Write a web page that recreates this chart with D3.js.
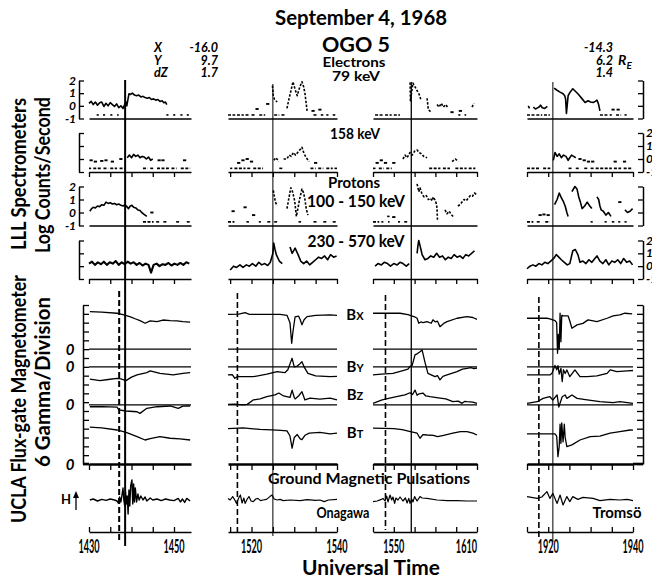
<!DOCTYPE html>
<html><head><meta charset="utf-8">
<script src="https://cdn.jsdelivr.net/npm/d3@7"></script>
<style>body{margin:0;background:#fff}svg{display:block}</style>
</head><body><svg id="c" width="652" height="584"></svg>
<script>
// ================= DATA =================
// time values are minutes past the column's hour
const colHours = [14, 15, 15, 19];
const colDomains = [[30,54],[14.5,40],[45,70],[15,40]];
const colTicks = [[30,35,40,45,50],[15,20,25,30,35,40],[45,50,55,60,65,70],[15,20,25,30,35,40]];
const tickLabels = [[1430,1450],[1520,1540],[1550,1610],[1920,1940]];
const dashedTimes = [37.1, 16.7, 48, 17.8];
const solidTimes = [38.5, 25, 54.2, 21.1];
const logTicks = [2, 1, 0, -1];
const floorLevel = -0.72;

// Electrons 79 keV (log counts/s)
const e79 = [
 [[30,0.2],[30.5,0.35],[31,0.1],[31.5,0.3],[32,0.05],[32.5,0.25],[33,0.3],[33.5,-0.05],[34,0.2],[34.5,0.0],[35,0.25],[35.5,0.1],[36,-0.05],[36.5,0.15],[37,-0.15],[37.5,0.0],[38,-0.2],[38.4,0.1],[38.7,0.3],[38.9,0.0],[39.1,0.4],[39.4,0.95],[39.8,0.9],[40.2,1.0],[40.7,0.85],[41.2,0.8],[41.7,0.85],[42.2,0.7],[42.7,0.75],[43.2,0.65],[43.7,0.6],[44.2,0.65],[44.7,0.5],[45.2,0.55],[45.7,0.45],[46.2,0.5],[46.7,0.35],[47.2,0.4],[47.6,0.25],[48,0.3],[48.3,0.1]],
 [[21.3,-0.25],[23.8,0.15],[24.9,1.6],[25,1.2],[25.1,0.8],[25.4,0.5],[26,0.3],[28.3,-0.2],[28.8,0.6],[29.3,1.3],[29.7,1.9],[30.2,1.3],[30.7,0.8],[31.2,1.4],[31.8,1.9],[32.2,1.5],[32.5,1.0],[33,-0.4],[34.4,-0.4],[36,-0.3]],
 [[53.9,1.85],[53.95,1.1],[54,0.4],[54.6,1.8],[55.1,1.5],[55.6,1.2],[56.1,0.9],[56.5,0.5],[58,0.6],[58.3,-0.3],[59,-0.5],[60.4,0.1],[60.9,-0.1],[61.4,0.2],[61.9,-0.1],[62.5,0.1],[62.9,-0.1],[64,-0.5],[66,-0.4],[68.8,-0.1],[69.3,0.2]],
 [[15.3,0.0],[15.6,-0.2],[16.5,-0.1],[17,-0.25],[17.8,-0.1],[18.2,0.05],[18.6,-0.15],[19.2,-0.2],[19.8,-0.05],[21.4,1.4],[22,1.25],[22.7,1.1],[23.5,0.95],[23.9,0.8],[24.1,0.55],[24.2,0.0],[24.3,-0.6],[24.7,0.8],[25.2,1.1],[25.8,1.35],[26.4,1.15],[27,0.95],[27.5,0.75],[28,0.55],[28.7,0.26],[29.4,0.4],[30,0.3],[30.6,0.26],[31.1,0.35],[31.5,0.45],[31.9,0.1],[32.2,-0.4],[35.3,-0.3],[36.5,-0.3]]
];
const e79Floor = [
 [[31.8,32.3],[33.3,33.8],[35,35.5],[36.6,37],[48.2,48.7],[49.8,50.3],[51.5,52],[53,53.5]],
 [[14.5,16.2],[16.6,18.2],[18.6,19.6],[20,21],[21.8,23.2],[25.3,26.5],[27,27.8],[34.5,35.2],[36.2,36.8],[37.5,38],[39,39.6]],
 [[45.5,47.5],[47.9,49.5],[50,51.5],[65.5,66],[67,67.4]],
 [[15,16.8],[17.2,18.6],[19,20.4],[32.2,34],[34.5,35],[36,37.2],[38,38.5]]
];
// Electrons 158 keV
const e158 = [
 [[30.5,-0.1],[31.5,-0.2],[33,-0.15],[34,-0.1],[35.5,-0.2],[37.5,0.0],[39,0.1],[39.5,0.3],[40,0.1],[40.5,0.35],[41,0.2],[41.5,0.3],[42,0.1],[42.5,0.2],[43,0.15],[43.5,0.0],[44,0.15],[44.5,-0.1],[45,0.0],[46.5,-0.1],[47.4,-0.1],[52.5,-0.1]],
 [[17,-0.3],[18,-0.1],[19,0.0],[20,-0.2],[25.2,-0.1],[25.7,0.1],[26.4,-0.2],[27.5,0.0],[28.3,0.0],[28.8,0.3],[29.3,0.2],[29.8,0.5],[30.3,0.3],[30.8,0.5],[31.3,0.7],[31.8,0.9],[32.3,0.4],[32.8,0.1],[33.5,-0.2],[35,-0.3]],
 [[46,-0.3],[47,-0.1],[48,-0.3],[50,-0.3],[52.2,0.0],[52.7,0.3],[53.2,0.1],[53.9,0.5],[54.4,0.3],[55,0.6],[55.6,0.7],[56.1,0.5],[56.6,0.4],[57.2,0.2],[58,0.1],[64,-0.2],[64.8,0.0],[65.5,-0.2]],
 [[21.2,-0.1],[21.6,0.5],[22.1,0.2],[22.6,0.4],[23.1,0.1],[23.6,0.3],[24.2,0.2],[24.7,-0.1],[25.5,0.3],[26,0.2],[26.5,0.1],[27.5,0.0],[28.5,-0.1],[29.5,-0.2],[30.5,-0.2],[35.8,-0.2],[38,-0.2]]
];
const e158Floor = [
 [[30,30.5],[31,32.8],[33.4,34.5],[35,36.6],[37.2,38.5],[42.7,43.8],[44.4,45.2],[46,48.8],[49.4,50.6],[51.6,53.8]],
 [[15,15.5],[16,18.6],[19,19.8],[20.4,22.7],[26.5,27.5],[33.8,35],[35.6,36.8],[37.5,39],[39.4,40]],
 [[45,45.6],[46.4,47.6],[48.2,49.5],[58.5,61.2],[61.8,63.5],[64.8,67.5],[68,69.6]],
 [[15,18.2],[18.8,20.5],[24.8,25.6],[26.5,27.5],[28.5,29.5],[30,30.8],[31.2,35],[35.5,37.2],[37.8,39.6]]
];
// Protons 100 - 150 keV
const p100 = [
 [[30.2,0.1],[30.6,0.3],[31,0.4],[31.5,0.35],[32,0.5],[32.5,0.45],[33,0.6],[33.5,0.55],[34,0.8],[34.5,0.7],[35,0.75],[35.5,0.65],[36,0.7],[36.5,0.6],[37,0.65],[37.5,0.55],[38,0.5],[38.5,0.6],[38.9,0.45],[39.3,0.3],[39.7,0.5],[40.1,0.55],[40.5,0.4],[41,0.35],[41.5,0.2],[42,0.15],[42.4,0.0],[42.8,-0.1],[43.2,-0.2],[43.6,-0.3],[44.8,0.0]],
 [[15.7,0.1],[18.5,0.4],[20.5,-0.2],[25.1,1.7],[25.3,1.3],[25.6,0.8],[26,0.5],[28.3,0.3],[28.8,1.2],[29.2,1.9],[29.6,1.6],[30.1,0.9],[30.5,-0.3],[30.9,0.4],[31.3,1.1],[31.8,1.8],[32.2,1.5],[32.5,1.0],[32.8,0.3],[33.2,-0.2]],
 [[48.4,-0.3],[49,-0.3],[50,-0.35],[55.6,2.2],[56,1.6],[56.3,1.9],[56.8,1.4],[57.3,1.2],[57.8,1.3],[58.3,1.0],[58.8,1.1],[59.2,0.9],[59.5,1.2],[60,0.9],[60.3,0.6],[60.4,0.2],[60.45,-0.2],[60.5,-0.6],[62.3,0.2],[62.8,-0.1],[63.3,0.1],[63.8,-0.15],[64.4,-0.35],[65.4,0.5],[65.9,0.6],[66.4,0.8],[66.9,1.0],[67.4,0.9],[67.9,1.1],[68.4,1.3],[68.9,1.25],[69.4,1.5],[69.8,1.4]],
 [[18.1,-0.2],[19,-0.15],[20,-0.2],[21.5,0.6],[22.1,1.0],[22.6,1.5],[23,1.2],[23.5,0.9],[24,0.5],[24.4,0.0],[24.7,-0.3],[25.6,1.6],[26.3,2.0],[26.8,1.8],[27.2,1.2],[27.6,0.8],[28,0.3],[28.6,0.5],[29.2,0.8],[29.8,0.5],[30.3,0.3],[31.5,1.2],[31.9,1.0],[32.2,0.5],[32.5,0.2],[33,0.1],[33.6,-0.2],[34.2,0.0],[34.8,-0.3],[36.9,0.8],[38.1,0.2],[38.7,0.0],[39.3,0.1],[39.9,0.3]]
];
const p100Floor = [
 [[42.7,45.2],[45.8,46.5],[47.5,48.5],[50.5,51.2],[53,53.8]],
 [[14.5,16],[18.8,19.4],[21.7,22.2],[23.7,24.5],[25.3,26],[31,31.6],[34.5,35.3],[36.8,37.5],[39,40]],
 [[45,46.5],[47,47.5],[48.6,49],[51,51.5],[52.5,53.5]],
 [[15,16.5],[17.3,18],[19.3,20.4],[30,30.5],[33.3,33.8],[35,35.6],[36.5,37],[38,38.5]]
];
// Protons 230 - 570 keV
const p230 = [
 [[30,0.2],[30.7,0.35],[31.4,0.1],[32.1,0.3],[32.8,0.15],[33.5,0.35],[34.2,0.1],[34.9,0.3],[35.6,0.2],[36.3,0.4],[37,0.1],[37.7,0.3],[38.4,0.15],[39.1,0.35],[39.8,0.2],[40.5,0.3],[41.2,0.1],[41.9,0.25],[42.6,0.05],[43.3,0.2],[44,0.1],[44.6,-0.5],[45.2,0.1],[45.9,0.2],[46.6,0.0],[47.3,0.15],[48,0.1],[48.7,0.25],[49.4,0.05],[50.1,0.2],[50.8,0.1],[51.5,0.25],[52.2,0.1],[52.9,0.3],[53.6,0.2]],
 [[15,-0.3],[15.8,0],[16.5,-0.1],[17.3,0.1],[18,-0.1],[18.8,0.1],[19.5,0.0],[20.2,0.2],[21,0.0],[21.7,0.3],[22.4,0.1],[23.1,0.2],[23.8,0.05],[24.4,0.3],[25,1.0],[25.2,1.8],[25.5,1.3],[25.8,0.9],[26.5,0.4],[27.2,0.2],[29,1.5],[29.5,1.0],[30.2,1.4],[30.9,0.9],[31.5,0.4],[32.2,0.2],[32.9,0.4],[33.6,0.1],[34.3,0.3],[35,0.5],[35.7,0.7],[36.4,0.6],[37.1,0.8],[37.8,0.5],[38.5,0.9],[39.2,0.7],[39.9,0.8]],
 [[45.5,0.0],[46.2,0.2],[47,0.1],[47.7,0.3],[48.5,0.2],[49.2,0.0],[50,0.2],[50.8,0.1],[51.5,0.3],[52.2,0.2],[53,0.0],[53.7,0.2],[55.6,1.0],[55.8,1.6],[56,2.0],[56.3,1.6],[56.6,1.2],[56.8,0.9],[57.5,0.5],[58.2,0.6],[58.9,0.8],[59.6,0.7],[60.3,1.0],[61,0.7],[61.7,0.8],[62.4,0.5],[63.1,0.7],[63.8,0.6],[64.5,0.9],[65.2,0.7],[65.9,0.8],[66.6,0.6],[67.3,0.9],[68,0.8],[68.7,1.0],[69.4,1.2]],
 [[15,-0.2],[15.7,0],[16.4,0.1],[17.1,0],[17.8,0.2],[18.5,0.1],[19.2,0.3],[19.9,0.2],[20.6,0.4],[21.3,0.6],[21.9,0.9],[22.5,0.7],[23.1,0.5],[23.8,0.3],[24.5,0.1],[25.1,0.2],[25.8,1.2],[26.4,1.3],[27,0.9],[27.5,0.3],[28.2,0.4],[28.9,0.2],[29.6,0.5],[30.3,0.3],[31,0.6],[31.5,0.8],[32.2,0.4],[32.9,0.2],[33.6,0.5],[34.3,0.1],[35,0.4],[35.7,0.3],[36.4,0.5],[37.1,0.2],[37.8,0.6],[38.5,0.3],[39.2,0.4],[39.9,0.1]]
];

// Magnetometer (gamma, relative to each trace's own zero)
const gammaPerDiv = 6;
const magZeroDiv = {Bx:13, By:11, Bz:6.7, Bt:0};
const bx = [
 [[30.2,25.5],[33,25.2],[36.6,24.4],[38,23.5],[39.6,22.1],[41,20.5],[42,19.4],[43.2,17.6],[44.4,19.2],[46,18.7],[47.4,19.8],[49.1,19.4],[50.7,19.2],[52.1,18.7],[53.8,18.3]],
 [[14.5,23.7],[17,23.8],[18.5,24.8],[19.5,23.7],[26.7,23.7],[28.3,23],[29,18],[29.4,4],[29.7,12],[30.2,22],[31,22.5],[31.4,20],[31.8,16.5],[32.3,20],[33,22.1],[35,23],[38.4,23.3],[40,23]],
 [[45,24.4],[51.5,24.4],[53.4,23.5],[55,22],[55.6,21],[56,17.6],[56.5,18.5],[57,18],[58,18.7],[59,17.6],[59.4,19.9],[60,18.5],[60.5,19],[61.1,15.3],[62,17.5],[62.8,18.7],[65.2,21],[67.6,22.1],[69,21.5],[70,20.3]],
 [[15,21],[19.7,21],[20.4,20.5],[21.6,19.4],[22,18],[22.2,-2.8],[22.4,10],[22.6,0],[22.8,24.4],[23,5],[23.2,23],[23.5,22.6],[24.7,22.6],[25,20],[25.6,14.2],[26.8,16.5],[28.2,17.5],[29.4,19.9],[31.5,18.7],[33.9,21],[35.3,22.6],[36.9,23.3],[38.1,24.4],[39.8,24]]
];
const by = [
 [[30.2,-8.4],[32.6,-9.4],[34.5,-8.6],[36.6,-7.8],[37.5,-8.2],[38.7,-9.4],[40,-7],[41.3,-5.5],[43.6,-3.9],[44.4,-2.8],[46.7,-4.4],[49.8,-5.5],[52.1,-4.4],[53.8,-3.9]],
 [[14.5,-5.5],[15.5,-5.3],[16.1,-7.8],[16.8,-6.5],[17.3,-6.7],[20.4,-6.7],[23.6,-5],[26,-3.3],[27.8,-4],[28.5,-2],[29,2],[29.5,5.8],[30,0],[30.7,0.5],[31.3,2],[31.8,3.5],[32.3,0],[33.2,-4.4],[35,-6.2],[38.4,-6.7],[40,-6.5]],
 [[45,-5.5],[47,-5],[49.8,-4.4],[52.2,-2.5],[53.4,-1.6],[53.9,0.3],[54.4,0.8],[55.1,8.1],[55.7,9],[56.3,10.3],[56.8,11.5],[57.5,3],[58.2,-4.4],[59.9,-6.7],[60.5,-6],[61.1,-8.9],[61.8,-6.5],[62.8,-5.5],[65.2,-3.3],[66.5,-1.5],[67.6,-1],[68.5,-0.5],[69.3,-1.2],[70,-0.8]],
 [[15,-5.5],[20.4,-5.5],[20.9,-4.4],[21.6,1],[22,-2],[22.3,0.8],[22.6,-5],[23,-1],[23.3,-10],[23.6,-2],[24,-4.5],[24.4,-2.1],[25.1,-6.7],[26.3,-2.1],[27.5,-6.7],[29.2,-6.7],[31.5,-6.2],[33.9,-4.4],[34.6,-2.1],[36.2,-3.3],[38.6,-2.8],[40,-2.5]]
];
const bz = [
 [[30.2,-1.3],[33,-1.2],[36.6,-1.5],[37,-3.5],[38.7,-4.2],[41.3,-4.7],[42,-5.8],[43.6,-2.4],[46,-1.3],[49.1,-0.8],[51,-2.4],[52.1,-0.9],[53.8,-0.8]],
 [[14.5,0.3],[16,0.5],[18,-0.1],[19,0.3],[20.4,3.3],[22,4],[23.6,5.5],[25.5,6.7],[26.4,8],[27.5,6],[29,5],[29.5,10],[30,5],[30.2,4],[31,6],[31.8,8.9],[32.5,3.3],[33.7,4.5],[36,3.8],[38.4,4.5],[40,3.3]],
 [[45,1],[47.2,3.3],[49,4.5],[51.5,6],[52.7,6.7],[53.9,8.2],[54.5,7],[55.1,10],[55.6,6.5],[56.1,7.5],[57,8],[57.7,6],[58.7,5.5],[61.1,4.6],[62.5,4],[64.2,2.1],[65.5,2.5],[66.4,1],[67,2.3],[67.6,2.1],[69,1.8],[70,1]],
 [[15,1],[17.4,2.1],[18.8,4.4],[20.4,5.5],[21.1,3.3],[22.1,6.7],[22.5,-1.5],[23.3,5.5],[24,6.7],[24.4,4.4],[25.6,6.7],[26.8,4.4],[29.2,3.3],[32.2,2.1],[35.3,1.5],[36.9,2.1],[40,1]]
];
const bt = [
 [[30.2,25],[33,24.5],[36.6,23.1],[38.9,21.3],[41.3,18.6],[43.2,16.3],[44.4,17.2],[46.7,18.6],[49.1,17.5],[51.4,17],[53.8,16.3]],
 [[14.5,24],[18,24.5],[22,23.5],[26,23],[28.3,22.5],[29,19],[29.5,10.7],[30,18],[30.7,20],[31.4,17],[31.8,16.5],[32.5,19.5],[33.5,21],[36,21.5],[38.4,20.5],[40,21]],
 [[45,24.3],[50,24],[52,23.3],[54,22],[55.6,20.9],[56.3,17.5],[57,20],[58,19.7],[59.5,19.5],[60.5,18.6],[62,19.5],[64.2,20.9],[66,22],[67.6,22],[69,21],[70,19.7]],
 [[15,20.5],[21.6,20.5],[22,19],[22.3,5],[22.6,12],[22.8,27],[23,14],[23.2,28],[23.5,15],[23.8,27],[24,18],[24.4,11.8],[25.6,13],[27.5,16.3],[29.9,18.6],[32.2,19],[34.6,20.9],[36.9,22],[39.3,23.1],[40,23]]
];
// Ground magnetic pulsations, H component (relative deflection)
const hPuls = [
 [[30.2,0],[31,0.5],[32,-0.5],[33,0.3],[34,-0.2],[35,0.5],[36,0],[36.6,-0.5],[36.9,-1.5],[37.2,1.5],[37.5,-1],[37.8,3],[38,6],[38.2,0],[38.4,-3],[38.6,4],[38.8,-2],[39,2],[39.2,-7],[39.4,5],[39.6,-3],[39.8,7],[40.1,10],[40.3,-2],[40.5,8],[40.7,-1],[40.9,6],[41.2,-1],[41.5,3],[41.8,0],[42.2,2],[42.7,0],[43.2,1.5],[43.6,-0.5],[44.4,1],[45,0],[46,0.5],[47,-0.3],[48,0.5],[49,0],[50,-0.3],[51,0.8],[51.5,-1],[52,0.5],[52.5,-1.2],[53,0.8],[53.8,-0.5]],
 [[14.5,0.8],[15,0],[15.6,1.7],[16.1,0],[16.5,-1.7],[17,1],[17.4,2.5],[17.8,-1.5],[18.2,1],[18.5,-1.7],[19,0.5],[19.4,1.7],[19.9,-0.5],[20.4,-0.8],[21,0.5],[21.5,0.8],[22.1,-0.3],[22.7,0],[23.5,0.3],[24.3,1.7],[24.8,2.5],[25.3,0.5],[26,0],[26.7,0.3],[27.4,-0.3],[29,0],[31.4,-0.3],[33,0.2],[35,-0.2],[36,0],[37,-0.8],[38,0],[40,0.3]],
 [[45,-0.8],[46,-0.5],[47,0.3],[47.4,0.8],[47.9,-0.5],[48.3,2],[48.6,-1],[49.1,2.5],[49.5,0],[49.8,1.5],[50.2,-1.7],[50.5,1],[51,0],[51.5,1.5],[52.2,-0.5],[52.8,1],[53.2,-1.5],[53.6,0.8],[53.9,-1.7],[54.3,0.5],[54.6,-1],[55,1.7],[55.6,-0.5],[56.3,1.7],[56.8,1],[58,0.8],[60.4,0],[62.8,-0.3],[65.2,-0.3],[67.6,-0.5],[70,-0.5]],
 [[15,1.7],[17.4,0.8],[18.5,1.5],[19.7,4.2],[20.4,0.8],[21.1,3.3],[22.1,-1.7],[22.8,2.5],[23.5,-2.5],[24.4,1.7],[25.1,-0.8],[25.8,1.7],[27,0.3],[28.2,1.3],[30.6,0.8],[32.2,-0.3],[34.6,0.3],[36.9,0],[38.6,0.3],[40,-0.3]]
];

// ================= LAYOUT =================
const FONT = 'Lato, "Open Sans", "DejaVu Sans", sans-serif';
const colRange = [[89,191],[228,337],[373,477],[527,633]];
const rowBox = [[80.5,118.5],[133,172],[186.5,225.5],[240.5,279]]; // [top, base]
const rowTicked = [false,true,false,true];
const leftAxisX = 79, rightAxisX = 643, magAxisX = 83;
const magTop = 305, magBase = 464, magDivs = 18;
const groundAxisY = 532;
const solidY = [[80,546],[84,536],[82,533],[82,542]];
const solidW = [2,1,1.3,1];
const dashY = [[291,543],[293,535],[295,530],[297,540]];
const dottyCols = [false,true,true,false];

const svg = d3.select("#c");
const xs = colDomains.map((d,i)=>d3.scaleLinear(d, colRange[i]));
const toMin = (hhmm, hour) => (Math.floor(hhmm/100)-hour)*60 + hhmm%100;

function styleAxis(g, w){
  g.selectAll("path.domain").attr("stroke","#000").attr("stroke-width",w);
  g.selectAll(".tick line").attr("stroke","#000").attr("stroke-width",1.3);
  g.selectAll(".tick text").remove();
}
function runs(pts, gap){
  const out=[]; let cur=[];
  pts.forEach(p=>{ if(cur.length && p[0]-cur[cur.length-1][0] > gap){out.push(cur);cur=[];} cur.push(p); });
  if(cur.length) out.push(cur);
  return out;
}
function drawPts(g, pts, x, y, w, dotty){
  runs(pts, 0.85).forEach(r=>{
    if(r.length===1){
      g.append("path").attr("d",`M${x(r[0][0])-1.6},${y(r[0][1])}h3.2`).attr("stroke","#000").attr("stroke-width",w+0.3).attr("fill","none");
    } else {
      const p = g.append("path").attr("d", d3.line().x(d=>x(d[0])).y(d=>y(d[1]))(r))
        .attr("stroke","#000").attr("stroke-width",w).attr("fill","none").attr("stroke-linejoin","round");
      if(dotty) p.attr("stroke-dasharray","2.4,1.6");
    }
  });
}
function txt(x,y,s,o={}){
  const t=svg.append("text").attr("x",x).attr("y",y).text(s)
    .style("font-family",FONT).style("font-weight",o.w||"bold").style("font-size",(o.size||15)+"px")
    .attr("text-anchor",o.anchor||"middle").attr("fill","#000");
  if(o.italic) t.style("font-style","italic");
  if(o.len) t.attr("textLength",o.len).attr("lengthAdjust","spacingAndGlyphs");
  if(o.rot) t.attr("transform",`rotate(-90,${x},${y})`);
  return t;
}

// ---------- Spectrometer rows ----------
const specData = [e79, e158, p100, p230];
const specFloor = [e79Floor, e158Floor, p100Floor, null];
const gSpec = svg.append("g");
rowBox.forEach((b,r)=>{
  const y = d3.scaleLinear([-1,2],[b[1],b[0]]);
  const la = gSpec.append("g").attr("transform",`translate(${leftAxisX},0)`)
    .call(d3.axisRight(y).tickValues(logTicks).tickSize(5).tickSizeOuter(0).tickFormat(""));
  styleAxis(la,1.5);
  const ra = gSpec.append("g").attr("transform",`translate(${rightAxisX},0)`)
    .call(d3.axisLeft(y).tickValues(logTicks).tickSize(5).tickSizeOuter(0).tickFormat(""));
  styleAxis(ra,1.5);
  if(r===0||r===2){
    logTicks.forEach(v=>txt(76, y(v)+4, String(v), {anchor:"end", italic:true, size:12}));
  } else {
    logTicks.forEach(v=>txt(646, y(v)+4, String(v), {anchor:"start", italic:true, size:12}));
  }
  colRange.forEach((cr,c)=>{
    const ax = gSpec.append("g").attr("transform",`translate(0,${b[1]})`)
      .call(d3.axisBottom(xs[c]).tickValues(rowTicked[r]?colTicks[c]:[]).tickSize(5).tickSizeOuter(0).tickFormat(""));
    styleAxis(ax,1.6);
    const fl = specFloor[r];
    if(fl) fl[c].forEach(s=>{
      gSpec.append("line").attr("x1",xs[c](s[0])).attr("x2",xs[c](s[1]))
        .attr("y1",y(floorLevel)).attr("y2",y(floorLevel)).attr("stroke","#000").attr("stroke-width",1.6)
        .attr("stroke-dasharray","3,1.5");
    });
    drawPts(gSpec, specData[r][c], xs[c], y, (r===3&&c===0)?2.1:1.6, dottyCols[c] && r<3);
  });
});

// ---------- Magnetometer ----------
const magY = d3.scaleLinear([0,magDivs],[magBase,magTop]);
const gMag = svg.append("g");
const lm = gMag.append("g").attr("transform",`translate(${magAxisX},0)`)
  .call(d3.axisRight(magY).tickValues(d3.range(0,magDivs+1)).tickSize(6).tickSizeOuter(0).tickFormat(""));
styleAxis(lm,1.5);
const rm = gMag.append("g").attr("transform",`translate(${rightAxisX},0)`)
  .call(d3.axisLeft(magY).tickValues(d3.range(0,magDivs+1)).tickSize(6).tickSizeOuter(0).tickFormat(""));
styleAxis(rm,1.5);
const traces = {Bx:bx, By:by, Bz:bz, Bt:bt};
colRange.forEach((cr,c)=>{
  ["Bx","By","Bz"].forEach(k=>{
    gMag.append("line").attr("x1",cr[0]).attr("x2",cr[1]).attr("y1",magY(magZeroDiv[k])).attr("y2",magY(magZeroDiv[k]))
      .attr("stroke","#000").attr("stroke-width",1.3);
  });
  const ax = gMag.append("g").attr("transform",`translate(0,${magBase})`)
    .call(d3.axisBottom(xs[c]).tickValues(colTicks[c]).tickSize(6).tickSizeOuter(0).tickFormat(""));
  styleAxis(ax,2.6);
  Object.keys(traces).forEach(k=>{
    const z = magZeroDiv[k];
    gMag.append("path").attr("d", d3.line().x(d=>xs[c](d[0])).y(d=>magY(z + d[1]/gammaPerDiv))(traces[k][c]))
      .attr("fill","none").attr("stroke","#000").attr("stroke-width",1.3).attr("stroke-linejoin","round");
  });
});
gMag.append("line").attr("x1",magAxisX).attr("x2",colRange[0][0]).attr("y1",magBase).attr("y2",magBase).attr("stroke","#000").attr("stroke-width",2.6);
gMag.append("line").attr("x1",colRange[3][1]).attr("x2",rightAxisX).attr("y1",magBase).attr("y2",magBase).attr("stroke","#000").attr("stroke-width",2.6);
Object.keys(magZeroDiv).forEach(k=>txt(70, magY(magZeroDiv[k])+5.5, "0", {italic:true, size:15}));

// ---------- Ground pulsations ----------
const gY = d3.scaleLinear([-10,10],[520,480]);
colRange.forEach((cr,c)=>{
  const ax = svg.append("g").attr("transform",`translate(0,${groundAxisY})`)
    .call(d3.axisTop(xs[c]).tickValues(colTicks[c]).tickSize(5).tickSizeOuter(0).tickFormat(""));
  styleAxis(ax,1.6);
  svg.append("path").attr("d", d3.line().x(d=>xs[c](d[0])).y(d=>gY(d[1]))(hPuls[c]))
    .attr("fill","none").attr("stroke","#000").attr("stroke-width",c===0?1.4:1.2).attr("stroke-linejoin","round");
  tickLabels[c].forEach((l,i)=>{
    const anchor = (c===2 && i===1) ? "end" : "middle";
    const tx = xs[c](toMin(l, colHours[c]));
    svg.append("text").attr("transform",`translate(${tx},553) scale(0.48,1)`).text(String(l))
      .style("font-family",FONT).style("font-weight","bold").style("font-size","19px")
      .attr("text-anchor",anchor).attr("fill","#000");
  });
  const xsol = xs[c](solidTimes[c]);
  svg.append("line").attr("x1",xsol).attr("x2",xsol).attr("y1",solidY[c][0]).attr("y2",solidY[c][1])
    .attr("stroke","#000").attr("stroke-width",solidW[c]);
  const xd = xs[c](dashedTimes[c]);
  svg.append("line").attr("x1",xd).attr("x2",xd).attr("y1",dashY[c][0]).attr("y2",dashY[c][1])
    .attr("stroke","#000").attr("stroke-width",c===0?2:1.6).attr("stroke-dasharray","6,3");
});
txt(66, 504, "H", {size:13});
svg.append("line").attr("x1",76).attr("x2",76).attr("y1",510).attr("y2",494).attr("stroke","#000").attr("stroke-width",1.3);
svg.append("path").attr("d","M73,498L76,491L79,498Z").attr("fill","#000");

// ---------- Texts ----------
txt(361, 25, "September 4, 1968", {size:20, len:172});
txt(356, 52, "OGO 5", {size:21, len:68});
txt(354, 67, "Electrons", {size:13.5, len:63});
txt(356, 80.5, "79 keV", {size:13.5, len:48});
txt(355, 139, "158 keV", {size:15, len:50});
txt(354, 188, "Protons", {size:15, len:52});
txt(356, 207, "100 - 150 keV", {size:17, len:98});
txt(356, 247, "230 - 570 keV", {size:17, len:97});
[["B","X",320],["B","Y",372],["B","Z",400],["B","T",438]].forEach(b=>{
  const t = txt(355, b[2], "", {size:15});
  t.append("tspan").text(b[0]);
  t.append("tspan").text(b[1]).style("font-size","11px");
});
{
  const t = txt(369, 484, "Ground Magnetic Pulsations", {size:16, len:202});
  const bb = t.node().getBBox();
  svg.insert("rect", "text").attr("x",bb.x-2).attr("y",bb.y+2).attr("width",bb.width+4).attr("height",bb.height-3).attr("fill","#fff");
}
txt(343, 518, "Onagawa", {size:15, len:53});
txt(617, 518, "Tromsö", {size:15, len:49});
txt(371, 575, "Universal Time", {size:20, len:138});

txt(26, 174, "LLL Spectrometers", {size:20, len:152, rot:true});
txt(50, 175, "Log Counts/Second", {size:20, len:156, rot:true});
txt(26, 399, "UCLA Flux-gate Magnetometer", {size:20, len:248, rot:true});
txt(50, 382, "6 Gamma/Division", {size:20, len:170, rot:true});

const posL = [["X","-16.0",52],["Y","9.7",64.5],["dZ","1.7",77]];
posL.forEach(p=>{
  txt(154, p[2], p[0], {anchor:"start", italic:true, size:12.5});
  txt(218, p[2], p[1], {anchor:"end", italic:true, size:12.5});
});
txt(613, 52, "-14.3", {anchor:"end", italic:true, size:12.5});
txt(613, 65, "6.2", {anchor:"end", italic:true, size:12.5});
txt(613, 77, "1.4", {anchor:"end", italic:true, size:12.5});
{
  const t = txt(618, 65, "", {anchor:"start", italic:true, size:14});
  t.append("tspan").text("R");
  t.append("tspan").text("E").attr("dy",4).style("font-size","10px");
}
</script></body></html>
